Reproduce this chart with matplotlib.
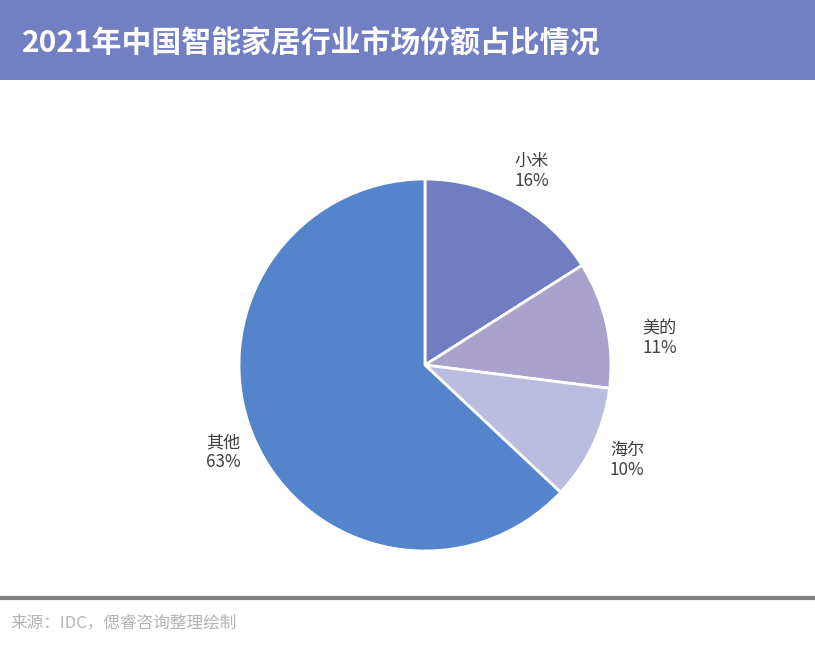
import numpy as np
import matplotlib
matplotlib.use("Agg")
import matplotlib.pyplot as plt
from matplotlib.patches import Rectangle
from matplotlib.lines import Line2D

plt.rcParams['font.family'] = ['Noto Sans CJK SC', 'DejaVu Sans']

# data
brands = ['小米', '美的', '海尔', '其他']
shares = [16, 11, 10, 63]
colors = ['#707ec1', '#aaa2cd', '#babde0', '#5384cc']

title = '2021年中国智能家居行业市场份额占比情况'
source = '来源：IDC，偲睿咨询整理绘制'

# label placement tweaks (distance in radii, angle shift in degrees)
label_dist = [1.19, 1.27, 1.2, 1.18]
label_shift = [0, -6, 0, 0]

W, H = 815, 650
fig = plt.figure(figsize=(W / 100, H / 100), dpi=100)

# header banner
fig.patches.append(Rectangle((0, 1 - 80 / H), 1, 80 / H, transform=fig.transFigure,
                             facecolor='#7080c2', edgecolor='none', zorder=0))
fig.text(22 / W, 1 - 44 / H, title, color='white', fontsize=21.5, fontweight='bold',
         ha='left', va='center')

# pie axes, centre (425, 365), radius 186 px
cx, cy, r = 425, 365, 186
lim = 1.4
size = 2 * lim * r
ax = fig.add_axes([(cx - size / 2) / W, (H - cy - size / 2) / H, size / W, size / H])

labels = [f'{b}\n{s}%' for b, s in zip(brands, shares)]
wedges, texts = ax.pie(shares, labels=labels, colors=colors, startangle=90,
                       counterclock=False, labeldistance=1.2,
                       wedgeprops=dict(edgecolor='white', linewidth=2),
                       textprops=dict(fontsize=12.3, color='#404040'))
for w, t, d, s in zip(wedges, texts, label_dist, label_shift):
    ang = np.deg2rad((w.theta1 + w.theta2) / 2 + s)
    t.set_position((d * np.cos(ang), d * np.sin(ang)))
    t.set_ha('center')
    t.set_va('center')
    t.set_linespacing(1.1)
ax.set_xlim(-lim, lim)
ax.set_ylim(-lim, lim)
ax.set_aspect('equal')
ax.axis('off')

# footer rule and source
fig.add_artist(Line2D([0, 1], [1 - 598 / H, 1 - 598 / H], transform=fig.transFigure,
                      color='#808080', linewidth=3))
fig.text(10 / W, 1 - 623 / H, source, color='#b4b4b4', fontsize=12,
         ha='left', va='center')

fig.savefig('out.png', dpi=100)
